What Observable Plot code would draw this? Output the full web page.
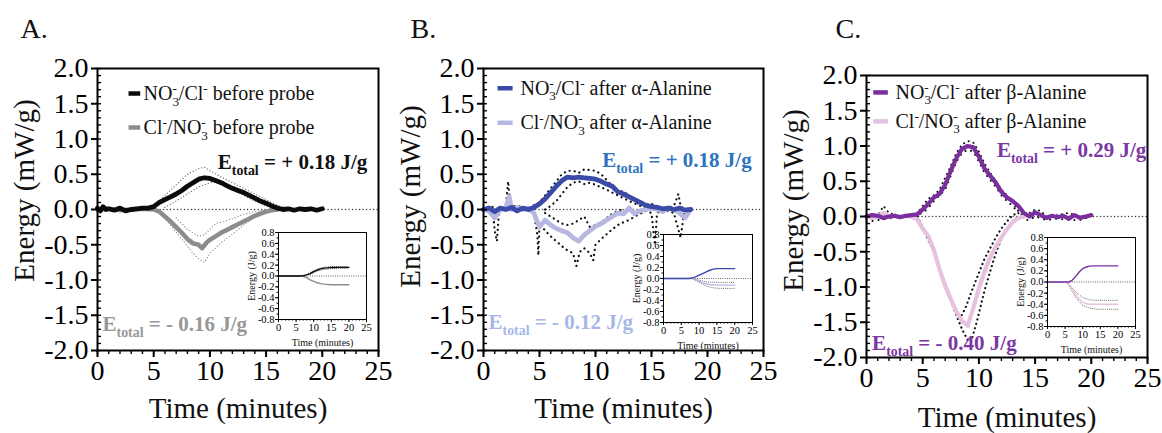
<!DOCTYPE html>
<html><head><meta charset="utf-8">
<script src="https://cdn.jsdelivr.net/npm/d3@7"></script>
<script src="https://cdn.jsdelivr.net/npm/@observablehq/plot@0.6"></script>
<style>
body{margin:0;background:#fff;}
#wrap{position:relative;width:1162px;height:433px;overflow:hidden;background:#fff;}
#wrap svg{position:absolute;overflow:visible;}
#wrap svg, #wrap svg text, #wrap svg tspan{font-family:"Liberation Serif","Times New Roman",serif !important;}
</style></head><body><div id="wrap"></div>
<script>
// ---------------- DATA (time in minutes, energy in mW/g or J/g) ----------------
// Panel A
const aNitrate = [[0,0.02],[0.25,-0.02],[0.5,0.04],[0.75,0.0],[1,0.01],[1.5,-0.01],[2,0.02],[2.5,-0.02],[3,0.0],[3.5,0.01],[4,0.02],[4.5,0.02],[5,0.04],[5.5,0.10],[6,0.14],[6.5,0.18],[7,0.22],[7.5,0.27],[8,0.33],[8.5,0.38],[9,0.43],[9.5,0.45],[10,0.44],[10.5,0.41],[11,0.38],[11.5,0.34],[12,0.30],[12.5,0.27],[13,0.24],[13.5,0.20],[14,0.16],[14.5,0.12],[15,0.09],[15.5,0.05],[16,0.02],[16.5,0.0],[17,0.01],[17.5,-0.01],[18,0.01],[18.5,0.0],[19,0.01],[19.5,-0.01],[20,0.01]];
const aChloride = [[0,0.0],[1,0.01],[2,-0.01],[3,0.0],[4,0.01],[5,0.0],[5.5,-0.03],[6,-0.10],[6.5,-0.17],[7,-0.25],[7.5,-0.33],[8,-0.42],[8.5,-0.48],[9,-0.50],[9.3,-0.55],[9.7,-0.47],[10,-0.43],[10.5,-0.38],[11,-0.33],[11.5,-0.29],[12,-0.25],[12.5,-0.21],[13,-0.17],[13.5,-0.13],[14,-0.09],[14.5,-0.06],[15,-0.03],[15.5,-0.01],[16,0.0]];
const aNitrateHi = [[5,0.05],[6,0.2],[7,0.35],[8,0.5],[9,0.58],[9.5,0.6],[10,0.55],[11,0.46],[12,0.38],[13,0.3],[14,0.22],[15,0.14],[16,0.06],[17,0.02]];
const aNitrateLo = [[6,0.03],[7,0.12],[8,0.22],[9,0.32],[10,0.38],[10.5,0.40],[11,0.36],[12,0.28],[13,0.20],[14,0.12],[15,0.05],[16,0.0]];
const aChlorideLo = [[6,-0.12],[7,-0.32],[8,-0.52],[8.5,-0.62],[9,-0.70],[9.5,-0.75],[10,-0.62],[11,-0.47],[12,-0.35],[13,-0.22],[14,-0.11],[15,-0.03]];
const aChlorideHi = [[7,-0.12],[8,-0.28],[9,-0.38],[9.5,-0.36],[10,-0.28],[10.5,-0.20],[11,-0.18],[12,-0.13],[13,-0.07],[14,-0.03],[15,0.0]];
const aNitrateCum = [[0,0],[6,0],[7,0.005],[8,0.02],[9,0.045],[10,0.08],[11,0.11],[12,0.13],[13,0.145],[14,0.15],[15,0.155],[16,0.157],[17,0.158],[18,0.158],[19,0.158],[20,0.158]];
const aChlorideCum = [[0,0],[6,0],[7,-0.005],[8,-0.03],[9,-0.07],[10,-0.10],[11,-0.125],[12,-0.14],[13,-0.15],[14,-0.155],[15,-0.16],[16,-0.16],[17,-0.16],[18,-0.16],[19,-0.16],[20,-0.16]];
const aNitrateCumHi = [[8,0.03],[10,0.1],[12,0.15],[14,0.17],[16,0.175],[18,0.175],[20,0.175]];
const aNitrateCumLo = [[9,0.03],[11,0.09],[13,0.12],[15,0.135],[17,0.14],[20,0.14]];

// Panel B
const bNitrate = [[0,0.0],[0.5,0.02],[1,-0.03],[1.5,0.02],[2,0.0],[2.5,0.03],[3,-0.02],[3.5,0.02],[4,0.0],[4.5,0.03],[5,0.08],[5.5,0.15],[6,0.24],[6.5,0.33],[7,0.41],[7.5,0.46],[8,0.45],[8.5,0.46],[9,0.45],[9.5,0.44],[10,0.43],[10.5,0.40],[11,0.36],[11.5,0.33],[12,0.25],[12.5,0.22],[13,0.18],[13.5,0.14],[14,0.10],[14.5,0.06],[15,0.04],[15.5,0.03],[16,0.01],[16.5,0.02],[17,0.0],[17.5,0.02],[18,-0.01],[18.5,0.0]];
const bChloride = [[0,0.0],[0.5,-0.02],[1,-0.12],[1.5,0.0],[2,0.03],[2.3,0.18],[2.5,0.0],[3,0.03],[3.5,0.0],[4,0.02],[4.5,-0.05],[5,-0.25],[5.5,-0.15],[6,-0.22],[6.5,-0.27],[7,-0.30],[7.5,-0.33],[8,-0.40],[8.5,-0.45],[9,-0.36],[9.5,-0.30],[10,-0.24],[10.5,-0.20],[11,-0.15],[11.5,-0.10],[12,-0.05],[12.5,-0.06],[13,0.02],[13.5,-0.06],[14,-0.02],[14.5,0.0],[15,0.02],[15.5,0.0],[16,-0.03],[16.5,0.02],[17,0.0],[17.5,-0.05],[18,-0.12],[18.5,0.0]];
const bNitrateHi = [[0,0.02],[0.8,0.05],[1,-0.3],[1.2,-0.45],[1.4,0.0],[2,0.05],[2.2,0.4],[2.4,0.05],[3,0.05],[4,0.02],[5,0.1],[6,0.3],[7,0.5],[7.5,0.55],[8,0.55],[8.5,0.52],[9,0.57],[10,0.55],[10.5,0.5],[11,0.42],[11.5,0.33],[12,0.27],[12.5,0.25],[13,0.2],[13.5,0.12],[14,0.06],[15,0.08],[15.5,0.05],[16,0.0],[17,0.05],[17.4,0.22],[17.6,0.05],[18,0.0],[18.5,0.03]];
const bNitrateLo = [[5.5,0.0],[6,0.05],[6.5,0.12],[7,0.22],[7.5,0.32],[8,0.38],[8.5,0.40],[9,0.36],[9.5,0.38],[10,0.35],[11,0.28],[12,0.2],[13,0.12],[14,0.05],[15,0.0]];
const bChlorideLo = [[4.5,-0.05],[4.8,-0.35],[4.9,-0.65],[5.0,-0.2],[5.5,-0.3],[6,-0.38],[6.5,-0.45],[7,-0.52],[7.5,-0.58],[8,-0.62],[8.3,-0.80],[8.6,-0.6],[9,-0.55],[9.5,-0.62],[9.8,-0.72],[10,-0.5],[10.5,-0.42],[11,-0.35],[11.5,-0.28],[12,-0.22],[12.5,-0.18],[13,-0.15],[13.5,-0.1],[14,-0.06],[14.5,-0.02],[15,-0.05],[15.3,-0.5],[15.5,-0.05],[16,0.0],[17,-0.05],[17.6,-0.4],[17.9,-0.05],[18.5,0.0]];
const bChlorideHi = [[5.5,-0.05],[6,-0.1],[6.5,-0.15],[7,-0.2],[7.5,-0.22],[8,-0.2],[8.5,-0.15],[9,-0.1],[9.5,-0.25],[10,-0.22],[10.5,-0.18],[11,-0.12],[11.5,-0.06],[12,-0.02],[12.5,0.0]];
const bNitrateCum = [[0,0],[7,0],[7.5,0.005],[8,0.01],[9,0.03],[10,0.06],[11,0.09],[12,0.12],[13,0.15],[14,0.17],[15,0.18],[16,0.18],[17,0.18],[18,0.18],[19,0.18],[20,0.18]];
const bChlorideCum = [[0,0],[8,0],[9,-0.02],[10,-0.05],[11,-0.08],[12,-0.10],[13,-0.11],[14,-0.115],[15,-0.12],[16,-0.12],[17,-0.12],[18,-0.12],[19,-0.12],[20,-0.12]];
const bChlorideCumHi = [[8,0],[10,-0.03],[12,-0.06],[14,-0.07],[16,-0.07],[18,-0.07],[20,-0.07]];
const bChlorideCumLo = [[8,0],[10,-0.07],[12,-0.14],[14,-0.17],[16,-0.18],[18,-0.18],[20,-0.18]];

// Panel C
const cNitrate = [[0,0.0],[0.5,0.02],[1,0.01],[1.5,-0.02],[2,0.0],[2.5,0.01],[3,-0.01],[3.5,0.01],[4,0.02],[4.5,0.03],[5,0.10],[5.5,0.18],[6,0.27],[6.5,0.32],[7,0.45],[7.5,0.65],[8,0.83],[8.5,0.96],[9,1.0],[9.5,0.98],[10,0.85],[10.5,0.68],[11,0.58],[11.5,0.48],[12,0.35],[12.5,0.27],[13,0.22],[13.5,0.15],[14,0.05],[14.5,0.0],[15,0.06],[15.5,0.02],[16,-0.02],[16.5,0.01],[17,-0.01],[17.5,0.01],[18,-0.03],[18.5,0.02],[19,-0.02],[19.5,0.0],[20,0.02]];
const cChloride = [[0,0.0],[0.5,-0.02],[1,0.0],[1.5,0.05],[2,0.0],[2.5,0.01],[3,0.0],[3.5,0.01],[4,0.0],[4.5,-0.04],[5,-0.17],[5.5,-0.28],[6,-0.48],[6.5,-0.75],[7,-0.98],[7.5,-1.17],[8,-1.35],[8.5,-1.48],[9,-1.55],[9.5,-1.30],[10,-1.02],[10.5,-0.78],[11,-0.58],[11.5,-0.43],[12,-0.30],[12.5,-0.18],[13,-0.08],[13.5,-0.02],[14,0.0]];
const cNitrateHi = [[0,-0.05],[1,0.0],[1.5,0.15],[2,0.05],[3,0.0],[4,0.02],[4.5,0.04],[5,0.15],[5.5,0.25],[6,0.3],[6.5,0.38],[7,0.55],[7.5,0.72],[8,0.9],[8.5,1.02],[9,1.07],[9.5,1.05],[10,0.92],[10.5,0.75],[11,0.62],[11.5,0.5],[12,0.38],[12.5,0.3],[13,0.2],[13.5,0.08],[14,0.0],[14.5,0.05],[15,0.1],[15.5,0.08],[16,0.0],[17,0.02],[18,0.05],[19,0.0],[20,0.0]];
const cNitrateLo = [[0,-0.08],[1,-0.05],[2,-0.03],[3,0.0],[4,0.0],[5,0.05],[5.5,0.12],[6,0.22],[6.5,0.3],[7,0.38],[7.5,0.58],[8,0.78],[8.5,0.9],[9,0.95],[9.5,0.92],[10,0.78],[10.5,0.62],[11,0.52],[11.5,0.42],[12,0.3],[12.5,0.22],[13,0.15],[13.5,0.05],[14,-0.05],[14.5,-0.05],[15,0.0],[16,-0.05],[17,-0.03],[18,-0.05],[19,-0.05],[20,0.0]];
const cChlorideHi = [[4.5,0],[5,-0.15],[5.5,-0.3],[6,-0.5],[6.5,-0.75],[7,-0.95],[7.5,-1.15],[8,-1.35],[8.3,-1.45],[8.8,-1.3],[9.5,-1.0],[10,-0.8],[10.5,-0.6],[11,-0.45],[11.5,-0.3],[12,-0.17],[12.5,-0.07],[13,0.02],[13.5,0.05]];
const cChlorideLo = [[4.5,0],[5,-0.17],[6,-0.5],[7,-1.0],[7.5,-1.2],[8,-1.4],[8.5,-1.6],[9,-1.75],[9.3,-1.78],[9.8,-1.5],[10.5,-1.05],[11,-0.78],[11.5,-0.52],[12,-0.32],[12.5,-0.17],[13,-0.07],[13.5,0.0]];
const cNitrateCum = [[0,0],[6,0],[7,0.03],[8,0.1],[9,0.18],[10,0.24],[11,0.27],[12,0.285],[13,0.29],[14,0.29],[15,0.29],[16,0.29],[17,0.29],[18,0.29],[19,0.29],[20,0.29]];
const cChlorideCum = [[0,0],[5,0],[6,-0.04],[7,-0.12],[8,-0.22],[9,-0.31],[10,-0.36],[11,-0.39],[12,-0.40],[13,-0.40],[14,-0.40],[15,-0.40],[16,-0.40],[17,-0.40],[18,-0.40],[19,-0.40],[20,-0.40]];
const cChlorideCumHi = [[6,-0.03],[8,-0.18],[10,-0.28],[12,-0.32],[14,-0.33],[16,-0.33],[18,-0.33],[20,-0.33]];
const cChlorideCumLo = [[6,-0.05],[8,-0.28],[10,-0.42],[12,-0.47],[14,-0.49],[16,-0.49],[18,-0.49],[20,-0.49]];

// Labels / ticks
const panelLetters = ["A.", "B.", "C."];
const legendA = ["NO_{3}^{-}/Cl^{-} before probe", "Cl^{-}/NO_{3}^{-} before probe"];
const legendB = ["NO_{3}^{-}/Cl^{-} after α-Alanine", "Cl^{-}/NO_{3}^{-} after α-Alanine"];
const legendC = ["NO_{3}^{-}/Cl^{-} after β-Alanine", "Cl^{-}/NO_{3}^{-} after β-Alanine"];
const totalsA = ["E_{total} = + 0.18 J/g", "E_{total} = - 0.16 J/g"];
const totalsB = ["E_{total} = + 0.18 J/g", "E_{total} = - 0.12 J/g"];
const totalsC = ["E_{total} = + 0.29 J/g", "E_{total} = - 0.40 J/g"];
const yTitle = "Energy (mW/g)", xTitle = "Time (minutes)";
const insetYTitle = "Energy (J/g)";
const yTicks = [-2, -1.5, -1, -0.5, 0, 0.5, 1, 1.5, 2];
const xTicks = [0, 5, 10, 15, 20, 25];
const insetYTicks = [-0.8, -0.6, -0.4, -0.2, 0, 0.2, 0.4, 0.6, 0.8];

// ---------------- DRAWING ----------------
const FONT = '"Liberation Serif","Times New Roman",serif';
const wrap = document.getElementById("wrap");
const fmt1 = d => d.toFixed(1);
const fx = d => d[0], fy = d => d[1];
const minorY = d3.range(-20, 21).map(k => k / 10);
const minorX = d3.range(0, 26);

function richText(svg) {
  svg.querySelectorAll("text").forEach(t => {
    const s = t.textContent;
    if (!/[_^]\{/.test(s)) return;
    const fs = parseFloat(getComputedStyle(t).fontSize) || 16;
    while (t.firstChild) t.removeChild(t.firstChild);
    const re = /([_^])\{([^}]*)\}|([^_^]+)/g;
    let m, cur = 0, last = null;
    while ((m = re.exec(s))) {
      const ts = document.createElementNS("http://www.w3.org/2000/svg", "tspan");
      let target;
      if (m[3] !== undefined) {
        ts.textContent = m[3]; target = 0;
        if (last === "stack") ts.setAttribute("dx", (fs * 0.1) + "px");
        last = "n";
      } else {
        ts.textContent = m[2];
        ts.setAttribute("font-size", (fs * 0.66) + "px");
        target = m[1] === "_" ? fs * 0.28 : -fs * 0.38;
        if (m[1] === "^" && last === "_") { ts.setAttribute("dx", (-fs * 0.33) + "px"); last = "stack"; }
        else last = m[1];
      }
      ts.setAttribute("dy", (target - cur) + "px");
      cur = target;
      t.appendChild(ts);
    }
  });
}

function place(svg, left, top) {
  svg.style.left = left + "px";
  svg.style.top = top + "px";
  wrap.appendChild(svg);
  richText(svg);
}

function mainPanel(c) {
  const marks = [
    Plot.ruleY([0], {stroke: "#333", strokeWidth: 1.3, strokeDasharray: "0.1,3.4", strokeLinecap: "round"}),
    ...c.dotted.map(d => Plot.line(d.data, {x: fx, y: fy, stroke: d.color, strokeWidth: d.w, strokeDasharray: "0.1," + d.gap, strokeLinecap: "round"})),
    ...c.lines.map(d => Plot.line(d.data, {x: fx, y: fy, stroke: d.color, strokeWidth: d.w, strokeLinejoin: "round", strokeLinecap: "round"})),
    Plot.frame({stroke: "#000", strokeWidth: 2}),
    Plot.axisY(yTicks, {tickSize: 6, tickPadding: 3, tickFormat: fmt1, fontSize: 28, label: null, strokeWidth: 2}),
    Plot.axisY(minorY, {tickSize: -4, tickFormat: () => "", label: null, strokeWidth: 1.4}),
    Plot.axisX(xTicks, {tickSize: 7, tickPadding: 3, fontSize: 28, label: null, strokeWidth: 2}),
    Plot.axisX(minorX, {tickSize: 4, tickFormat: () => "", label: null, strokeWidth: 1.4}),
    // legend
    Plot.link(c.legend, {x1: c.legX1, x2: c.legX2, y1: (d, i) => c.legY[i], y2: (d, i) => c.legY[i], stroke: (d, i) => c.legColors[i], strokeWidth: 4.5}),
    Plot.text(c.legend, {x: c.legTX, y: (d, i) => c.legY[i], text: d => d, textAnchor: "start", lineAnchor: "middle", fontSize: 20, fill: "#111"}),
    // totals
    Plot.text(c.totals, {x: (d, i) => c.totX[i], y: (d, i) => c.totY[i], text: d => d, textAnchor: "start", lineAnchor: "bottom", fontSize: 21, fontWeight: "bold", fill: (d, i) => c.totColors[i]}),
    // titles
    Plot.text([yTitle], {frameAnchor: "left", rotate: -90, textAnchor: "middle", lineAnchor: "middle", dx: c.yTitleDx, dy: c.yTitleDy, fontSize: 29, fill: "#111"}),
    Plot.text([xTitle], {frameAnchor: "bottom", textAnchor: "middle", lineAnchor: "middle", dy: c.xTitleDy, fontSize: 29, fill: "#111"}),
    Plot.text([c.letter], {frameAnchor: "top-left", textAnchor: "start", lineAnchor: "top", dx: c.letterDx, dy: c.letterDy, fontSize: 28, fill: "#111"})
  ];
  const svg = Plot.plot({
    width: c.width, height: 433,
    marginLeft: c.ml, marginRight: c.mr, marginTop: c.mt, marginBottom: c.mb,
    x: {domain: [0, 25]}, y: {domain: [-2, 2]},
    style: {fontFamily: FONT, background: "transparent", color: "#000", overflow: "visible"},
    marks
  });
  place(svg, c.left, 0);
}

function insetPanel(c) {
  const svg = Plot.plot({
    width: c.pw + 48, height: c.ph + 38,
    marginLeft: 40, marginRight: 8, marginTop: 6, marginBottom: 32,
    x: {domain: [0, 25]}, y: {domain: [-0.8, 0.8]},
    style: {fontFamily: FONT, background: "transparent", color: "#000", overflow: "visible"},
    marks: [
      Plot.ruleY([0], {stroke: "#555", strokeWidth: 1, strokeDasharray: "0.1,2.2", strokeLinecap: "round"}),
      ...c.dotted.map(d => Plot.line(d.data, {x: fx, y: fy, stroke: d.color, strokeWidth: 1, strokeDasharray: "0.1,2", strokeLinecap: "round"})),
      ...c.lines.map(d => Plot.line(d.data, {x: fx, y: fy, stroke: d.color, strokeWidth: 1.4})),
      Plot.frame({stroke: "#000", strokeWidth: 1}),
      Plot.axisY(insetYTicks, {tickSize: 3, tickPadding: 1, tickFormat: fmt1, fontSize: 10.5, label: null}),
      Plot.axisY(minorY.filter(v => Math.abs(v) <= 0.8), {tickSize: 1.5, tickFormat: () => "", label: null}),
      Plot.axisX(xTicks, {tickSize: 3, tickPadding: 1, fontSize: 10.5, label: null}),
      Plot.axisX(minorX, {tickSize: 1.5, tickFormat: () => "", label: null}),
      Plot.text([insetYTitle], {frameAnchor: "left", rotate: -90, textAnchor: "middle", lineAnchor: "middle", dx: -27, fontSize: 10, fill: "#111"}),
      Plot.text([xTitle], {frameAnchor: "bottom", textAnchor: "middle", lineAnchor: "middle", dy: 23, fontSize: 10, fill: "#111"})
    ]
  });
  place(svg, c.x - 40, c.y - 6);
}

// Panel A
const cA = {black: "#0b0b0b", gray: "#8c8c8c"};
mainPanel({
  left: 0, width: 390, ml: 97, mr: 12, mt: 68, mb: 83,
  dotted: [
    {data: aNitrateHi, color: "#666", w: 1.2, gap: 3}, {data: aNitrateLo, color: "#666", w: 1.2, gap: 3},
    {data: aChlorideLo, color: "#888", w: 1.2, gap: 3}, {data: aChlorideHi, color: "#888", w: 1.2, gap: 3}
  ],
  lines: [{data: aChloride, color: cA.gray, w: 4.5}, {data: aNitrate, color: cA.black, w: 4.8}],
  legend: legendA, legX1: 2.76, legX2: 3.8, legY: [1.645, 1.163], legTX: 4.1, legColors: [cA.black, cA.gray],
  totals: totalsA, totX: [10.7, 0.45], totY: [0.58, -1.72], totColors: ["#111", "#979797"],
  yTitleDx: -73, yTitleDy: -19, xTitleDy: 58, letter: panelLetters[0], letterDx: -77, letterDy: -50
});
insetPanel({x: 278, y: 232, pw: 88, ph: 87,
  dotted: [{data: aNitrateCumHi, color: "#444"}, {data: aNitrateCumLo, color: "#444"}],
  lines: [{data: aChlorideCum, color: cA.gray}, {data: aNitrateCum, color: cA.black}]});

// Panel B
const cB = {blue: "#3a4aa6", lav: "#b6b8e2"};
mainPanel({
  left: 390, width: 385, ml: 93, mr: 12, mt: 68, mb: 83,
  dotted: [
    {data: bNitrateHi, color: "#111", w: 2.2, gap: 5}, {data: bNitrateLo, color: "#111", w: 2.2, gap: 5},
    {data: bChlorideLo, color: "#111", w: 2.2, gap: 5}, {data: bChlorideHi, color: "#111", w: 2.2, gap: 5}
  ],
  lines: [{data: bChloride, color: cB.lav, w: 4.8}, {data: bNitrate, color: cB.blue, w: 4.8}],
  legend: legendB, legX1: 1.25, legX2: 2.6, legY: [1.72, 1.23], legTX: 3.3, legColors: [cB.blue, cB.lav],
  totals: totalsB, totX: [10.6, 0.45], totY: [0.6, -1.69], totColors: ["#2f73c0", "#a6b6e6"],
  yTitleDx: -73, yTitleDy: -13, xTitleDy: 58, letter: panelLetters[1], letterDx: -73, letterDy: -50
});
insetPanel({x: 663, y: 234, pw: 89, ph: 88,
  dotted: [{data: bChlorideCumHi, color: "#555"}, {data: bChlorideCumLo, color: "#555"}],
  lines: [{data: bChlorideCum, color: cB.lav}, {data: bNitrateCum, color: cB.blue}]});

// Panel C
const cC = {purple: "#7a2f9e", pink: "#e6c2df"};
mainPanel({
  left: 770, width: 392, ml: 96, mr: 15, mt: 75, mb: 76,
  dotted: [
    {data: cNitrateHi, color: "#111", w: 2, gap: 5}, {data: cNitrateLo, color: "#111", w: 2, gap: 6},
    {data: cChlorideHi, color: "#111", w: 2.2, gap: 4.5}, {data: cChlorideLo, color: "#111", w: 2.2, gap: 4.5}
  ],
  lines: [{data: cChloride, color: cC.pink, w: 4.2}, {data: cNitrate, color: cC.purple, w: 4.2}],
  legend: legendC, legX1: 0.6, legX2: 1.9, legY: [1.76, 1.35], legTX: 2.58, legColors: [cC.purple, cC.pink],
  totals: totalsC, totX: [11.6, 0.5], totY: [0.84, -1.9], totColors: ["#7b37a3", "#7b37a3"],
  yTitleDx: -73, yTitleDy: -16, xTitleDy: 60, letter: panelLetters[2], letterDx: -31, letterDy: -57
});
insetPanel({x: 1047, y: 237, pw: 88, ph: 89,
  dotted: [{data: cChlorideCumHi, color: "#555"}, {data: cChlorideCumLo, color: "#555"}],
  lines: [{data: cChlorideCum, color: cC.pink}, {data: cNitrateCum, color: cC.purple}]});
</script>
</body></html>
